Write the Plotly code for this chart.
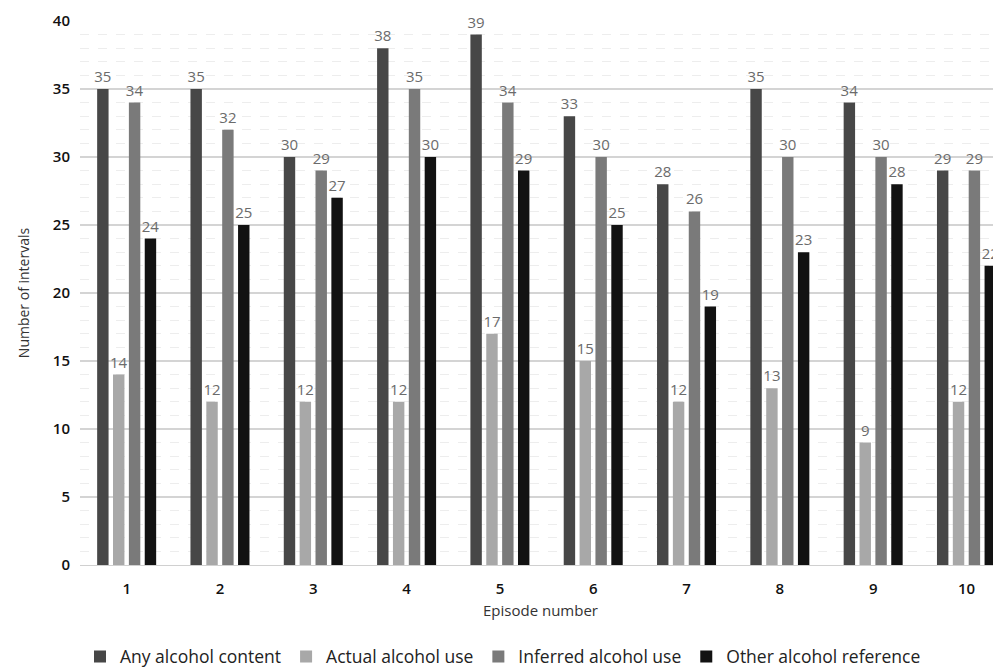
import plotly.graph_objects as go

episodes = ["1", "2", "3", "4", "5", "6", "7", "8", "9", "10"]
any_content = [35, 35, 30, 38, 39, 33, 28, 35, 34, 29]
actual_use = [14, 12, 12, 12, 17, 15, 12, 13, 9, 12]
inferred_use = [34, 32, 29, 35, 34, 30, 26, 30, 30, 29]
other_ref = [24, 25, 27, 30, 29, 25, 19, 23, 28, 22]

series = [
    ("Any alcohol content", any_content, "#474747"),
    ("Actual alcohol use", actual_use, "#a8a8a8"),
    ("Inferred alcohol use", inferred_use, "#7a7a7a"),
    ("Other alcohol reference", other_ref, "#121212"),
]

FONT = "Open Sans"
fig = go.Figure()
for name, vals, col in series:
    fig.add_trace(go.Bar(
        x=episodes, y=vals, name=name,
        marker=dict(color=col, line=dict(width=0)),
        text=[str(v) for v in vals], textposition="outside",
        constraintext="none",
        textfont=dict(family=FONT, size=15, color="#6b6b6b"),
        cliponaxis=False,
    ))

# page body has an 8px margin, so the figure is sized to fit the window
fig.update_layout(
    width=993, height=659,
    margin=dict(l=72, r=0, t=13, b=102, autoexpand=False),
    paper_bgcolor="white", plot_bgcolor="white",
    barmode="group", bargap=0.32, bargroupgap=0.28,
    font=dict(family=FONT, size=14, color="#222"),
    uniformtext=dict(minsize=15, mode="show"),
    xaxis=dict(
        type="category", range=[-0.5, 9.37], automargin=False,
        showgrid=False, showline=True, linecolor="#d0d0d0", linewidth=1,
        ticks="", tickfont=dict(family=FONT, size=15, color="#111", weight=600),
        ticklabelstandoff=10,
        title=dict(text="Episode number", font=dict(family=FONT, size=15, color="#333"), standoff=8),
    ),
    yaxis=dict(
        range=[0, 40], dtick=5, showgrid=True, gridcolor="#d4d4d4", gridwidth=1.5,
        zeroline=False, showline=False, automargin=False,
        tickfont=dict(family=FONT, size=15, color="#111", weight=600), ticklabelstandoff=9,
        minor=dict(dtick=1, showgrid=True, gridcolor="#ededed", griddash="dash", gridwidth=1),
        title=dict(text="Number of intervals", font=dict(family=FONT, size=14, color="#333"), standoff=19),
    ),
    legend=dict(
        orientation="h", x=0.0, xanchor="left", y=-0.1355, yanchor="top",
        font=dict(family=FONT, size=17.5, color="#222"),
        entrywidth=0, itemwidth=30, traceorder="normal",
    ),
)

fig.write_html("out.html")
